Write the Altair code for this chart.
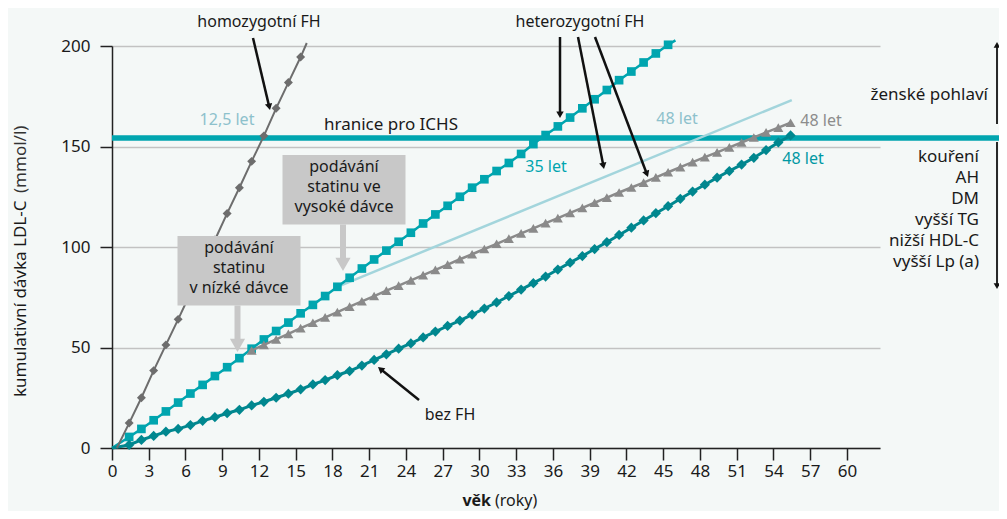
import math
import altair as alt
import pandas as pd

FONT = "Noto Sans"

# ---------------- data ----------------
x_ticks = [0, 3, 6, 9, 12, 15, 18, 21, 24, 27, 30, 33, 36, 39, 42, 45, 48, 51, 54, 57, 60]
y_ticks = [0, 50, 100, 150, 200]

# homozygous FH (grey diamonds)
homo_age = [1.4, 2.4, 3.4, 4.4, 5.4, 6.4, 7.4, 8.4, 9.4, 10.4, 11.4, 12.4, 13.4, 14.4, 15.4]
homo_val = [12.4, 25.0, 38.5, 51.3, 64.0, 77.0, 90.0, 103.5, 116.7, 129.5, 142.6, 155.3, 169.0, 181.8, 194.5]
homo_start = [0.4, 0.0]
homo_end = [15.9, 201.5]

# heterozygous FH, untreated (teal squares)
het_age = [1.4, 2.4, 3.4, 4.4, 5.4, 6.4, 7.4, 8.4, 9.4, 10.4, 11.4, 12.4, 13.4, 14.4, 15.4,
           16.4, 17.4, 18.4, 19.4, 20.4, 21.4, 22.4, 23.4, 24.4, 25.4, 26.4, 27.4, 28.4, 29.4, 30.4,
           31.4, 32.4, 33.4, 34.4, 35.4, 36.4, 37.4, 38.4, 39.4, 40.4, 41.4, 42.4, 43.4, 44.4, 45.4]
het_val = [5.5, 9.5, 13.8, 18.2, 22.6, 27.1, 31.4, 35.8, 40.2, 44.7,
           49.4, 54.0, 58.2, 62.4, 67.0, 71.2, 75.6, 80.2, 84.7, 89.3,
           93.8, 98.2, 102.6, 107.1, 111.7, 116.2, 120.5, 125.0, 129.5, 133.7,
           137.8, 141.8, 146.3, 151.2, 155.7, 160.0, 164.4, 169.0, 173.5, 178.1,
           183.0, 187.3, 191.8, 196.3, 200.6]
het_start = [0.0, 0.0]
het_end = [46.0, 202.8]

# heterozygous FH, low-dose statin (grey triangles)
tri_age = [11.4, 12.4, 13.4, 14.4, 15.4, 16.4, 17.4, 18.4, 19.4, 20.4, 21.4, 22.4, 23.4, 24.4, 25.4,
           26.4, 27.4, 28.4, 29.4, 30.4, 31.4, 32.4, 33.4, 34.4, 35.4, 36.4, 37.4, 38.4, 39.4, 40.4,
           41.4, 42.4, 43.4, 44.4, 45.4, 46.4, 47.4, 48.4, 49.4, 50.4, 51.4, 52.4, 53.4, 54.4, 55.4]
tri_val = [48.5, 51.3, 54.0, 56.8, 59.6, 62.3, 65.0, 67.6, 70.3, 73.0,
           75.6, 78.3, 80.8, 83.4, 86.0, 88.6, 91.2, 93.9, 96.4, 99.0,
           101.6, 104.2, 106.8, 109.3, 111.9, 114.4, 117.0, 119.5, 122.0, 124.6,
           127.1, 129.6, 132.0, 134.6, 137.2, 139.7, 142.2, 144.7, 147.1, 149.6,
           152.0, 154.5, 157.0, 159.4, 161.8]

# heterozygous FH, high-dose statin (light line)
high_age = [18.4, 55.5]
high_val = [80.2, 173.1]

# without FH (dark teal diamonds)
bez_age = [1.4, 2.4, 3.4, 4.4, 5.4, 6.4, 7.4, 8.4, 9.4, 10.4, 11.4, 12.4, 13.4, 14.4, 15.4,
           16.4, 17.4, 18.4, 19.4, 20.4, 21.4, 22.4, 23.4, 24.4, 25.4, 26.4, 27.4, 28.4, 29.4, 30.4,
           31.4, 32.4, 33.4, 34.4, 35.4, 36.4, 37.4, 38.4, 39.4, 40.4, 41.4, 42.4, 43.4, 44.4, 45.4,
           46.4, 47.4, 48.4, 49.4, 50.4, 51.4, 52.4, 53.4, 54.4, 55.4]
bez_val = [1.5, 4.0, 6.0, 8.1, 9.5, 11.4, 13.5, 15.3, 17.3, 19.0,
           21.2, 23.0, 25.0, 27.0, 29.2, 31.6, 33.8, 36.2, 38.3, 41.0,
           43.8, 46.6, 49.4, 52.0, 55.0, 57.9, 60.7, 63.4, 66.4, 69.4,
           72.4, 75.6, 78.8, 82.0, 85.3, 88.8, 92.2, 95.5, 99.0, 102.4,
           106.0, 109.6, 113.2, 116.8, 120.3, 124.0, 127.6, 131.0, 134.5, 137.8,
           141.0, 144.4, 148.2, 152.0, 155.5]
bez_start = [0.0, 0.0]

threshold = 154.2

# ---------------- layout ----------------
W, H = 768, 402
XMAX = 62.7
PAD = {"left": 104, "top": 38, "right": 119, "bottom": 63}
OX, OY = 8 + PAD["left"], 8 + PAD["top"]          # page position of the plot origin (top-left)
KX, KY = W / XMAX, H / 200.0


def PX(px):
    return (px - OX) / KX


def PY(py):
    return (OY + H - py) / KY


xs = alt.Scale(domain=[0, XMAX], nice=False, zero=False)
ys = alt.Scale(domain=[0, 200], nice=False)

xaxis = alt.Axis(values=x_ticks, title=None, grid=False, tickSize=12, tickWidth=1.5,
                 tickColor="#222", domainColor="#222", domainWidth=1.5, labelFlush=False,
                 labelFont=FONT, labelFontSize=17, labelColor="#1a1a1a", labelPadding=3)
yaxis = alt.Axis(values=y_ticks, title=None, grid=True, gridColor="#c2c2c2", gridWidth=1.5,
                 tickSize=12, tickWidth=1.5, tickColor="#222", domainColor="#222", domainWidth=1.5,
                 labelFlush=False,
                 labelFont=FONT, labelFontSize=17, labelColor="#1a1a1a", labelPadding=10)


def X():
    return alt.X("x:Q", scale=xs, axis=xaxis)


def Y():
    return alt.Y("y:Q", scale=ys, axis=yaxis)


def df(xv, yv):
    return pd.DataFrame({"x": xv, "y": yv})


layers = []

# threshold line (extends into right margin)
thr = pd.DataFrame({"x": [0.0], "x2": [PX(1007)], "y": [threshold]})
layers.append(alt.Chart(thr).mark_rule(color="#00a5af", strokeWidth=5.5).encode(
    x=X(), x2="x2:Q", y=Y()))

# light line (high dose)
layers.append(alt.Chart(df(high_age, high_val)).mark_line(color="#a3d5dc", strokeWidth=2.5).encode(x=X(), y=Y()))

# heterozygous squares
layers.append(alt.Chart(df([het_start[0]] + het_age + [het_end[0]], [het_start[1]] + het_val + [het_end[1]]))
              .mark_line(color="#00a5af", strokeWidth=2.5).encode(x=X(), y=Y()))
layers.append(alt.Chart(df(het_age, het_val)).mark_point(shape="square", filled=True, size=75, opacity=1,
                                                         color="#00a5af").encode(x=X(), y=Y()))

# low-dose triangles
layers.append(alt.Chart(df(tri_age, tri_val)).mark_line(color="#8a8a8a", strokeWidth=2.5).encode(x=X(), y=Y()))
layers.append(alt.Chart(df(tri_age, tri_val)).mark_point(shape="triangle-up", filled=True, size=100, opacity=1,
                                                         color="#8a8a8a").encode(x=X(), y=Y()))

# without FH diamonds
layers.append(alt.Chart(df([bez_start[0]] + bez_age, [bez_start[1]] + bez_val))
              .mark_line(color="#00878f", strokeWidth=3).encode(x=X(), y=Y()))
layers.append(alt.Chart(df(bez_age, bez_val)).mark_point(shape="diamond", filled=True, size=105, opacity=1,
                                                         color="#00878f").encode(x=X(), y=Y()))

# homozygous diamonds
layers.append(alt.Chart(df([homo_start[0]] + homo_age + [homo_end[0]], [homo_start[1]] + homo_val + [homo_end[1]]))
              .mark_line(color="#6d6d6d", strokeWidth=2).encode(x=X(), y=Y()))
layers.append(alt.Chart(df(homo_age, homo_val)).mark_point(shape="diamond", filled=True, size=80, opacity=1,
                                                           color="#6d6d6d").encode(x=X(), y=Y()))

# grey boxes
boxes = pd.DataFrame({
    "x": [PX(282.5), PX(177.5)], "x2": [PX(405.5), PX(300.5)],
    "y": [PY(155), PY(236)], "y2": [PY(224.5), PY(305.5)],
})
layers.append(alt.Chart(boxes).mark_rect(color="#c8c8c8").encode(x=X(), x2="x2:Q", y=Y(), y2="y2:Q"))


# arrows
def arrows(specs, color, width, head):
    rules, heads = [], []
    back = 0.433 * math.sqrt(head)
    for (tx, ty), (hx, hy) in specs:
        dx, dy = hx - tx, hy - ty
        L = math.hypot(dx, dy)
        ux, uy = dx / L, dy / L
        cx, cy = hx - ux * back, hy - uy * back
        ang = math.degrees(math.atan2(dx, -dy)) % 360
        rules.append({"x": PX(tx), "y": PY(ty), "x2": PX(cx), "y2": PY(cy)})
        heads.append({"x": PX(cx), "y": PY(cy), "angle": ang})
    r = alt.Chart(pd.DataFrame(rules)).mark_rule(color=color, strokeWidth=width).encode(
        x=X(), y=Y(), x2="x2:Q", y2="y2:Q")
    h = alt.Chart(pd.DataFrame(heads)).mark_point(shape="triangle-up", filled=True, opacity=1,
                                                  size=head, color=color).encode(
        x=X(), y=Y(), angle=alt.Angle("angle:Q", scale=None))
    return [r, h]


layers += arrows([((343, 224.5), (343, 271)), ((237.5, 305.5), (237.5, 352))], "#c8c8c8", 6, 230)
layers += arrows([
    ((253, 38), (270, 110)),
    ((560, 37), (560, 118)),
    ((578, 37), (604, 169)),
    ((595, 37), (648, 177)),
    ((419, 400), (378, 367)),
], "#111", 2.5, 55)
layers += arrows([((997, 124), (997, 42)), ((997, 142), (997, 289))], "#111", 1.8, 45)


def texts(rows, color="#1a1a1a", size=16, align="center", weight="normal", angle=0):
    d = pd.DataFrame([{"x": PX(a), "y": PY(b), "text": t} for t, a, b in rows])
    kw = dict(font=FONT, fontSize=size, color=color, align=align, baseline="middle", fontWeight=weight)
    if angle:
        kw["angle"] = angle
    return alt.Chart(d).mark_text(**kw).encode(x=X(), y=Y(), text="text:N")


layers.append(texts([
    ("homozygotní FH", 259, 21.5),
    ("heterozygotní FH", 580, 21.5),
    ("bez FH", 450, 415),
    ("podávání", 344, 167), ("statinu ve", 344, 187), ("vysoké dávce", 344, 207),
    ("podávání", 239, 248), ("statinu", 239, 268), ("v nízké dávce", 239, 288),
]))
layers.append(texts([("hranice pro ICHS", 391, 125)], size=17))
layers.append(texts([("12,5 let", 227, 120), ("48 let", 677, 119)], color="#8dc1cc"))
layers.append(texts([("48 let", 821, 121)], color="#8c8c8c"))
layers.append(texts([("35 let", 546, 167)], color="#00a5af"))
layers.append(texts([("48 let", 803, 159)], color="#0098a3"))
layers.append(texts([("ženské pohlaví", 988, 95)], size=17, align="right"))
layers.append(texts([
    ("kouření", 979, 157), ("AH", 979, 178), ("DM", 979, 199),
    ("vyšší TG", 979, 220), ("nižší HDL-C", 979, 241), ("vyšší Lp (a)", 979, 262),
], size=17, align="right"))

# axis titles
layers.append(texts([("věk", 491, 501)], align="right", weight="bold"))
layers.append(texts([("(roky)", 495, 501)], align="left"))
layers.append(texts([("kumulativní dávka LDL-C", 21, 397)], size=17, align="left", angle=270))
layers.append(texts([("(mmol/l)", 21, 193)], size=17, align="left", angle=270, color="#333"))

chart = alt.layer(*layers).properties(
    width=W, height=H, padding=PAD, autosize=alt.AutoSizeParams(type="none")
).configure(background="#f4f8f7").configure_view(stroke=None)

chart.save("out.html", embed_options={"renderer": "svg", "actions": False})
